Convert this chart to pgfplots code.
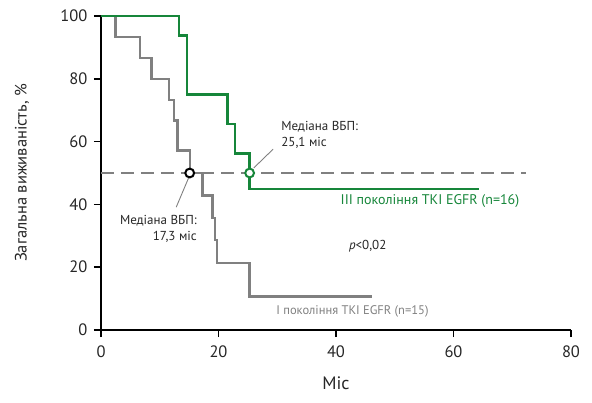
\documentclass[border=0pt]{standalone}
\usepackage{pgfplots}
\pgfplotsset{compat=1.18}
\usepackage{fontspec}
\setmainfont{PT Sans}
\definecolor{kmgreen}{RGB}{22,134,58}
\definecolor{kmgray}{RGB}{128,128,128}
\begin{document}
\begin{tikzpicture}
\path[use as bounding box] (-101pt,-72pt) rectangle (491pt,330pt);
\begin{axis}[
  scale only axis,
  width=470pt, height=314pt,
  xmin=0, xmax=80, ymin=0, ymax=100,
  axis x line*=bottom, axis y line*=left,
  axis line style={line width=1.6pt, black, -},
  xtick={0,20,40,60,80}, ytick={0,20,40,60,80,100},
  tick align=outside,
  major tick length=7pt,
  tick style={line width=1.6pt, black},
  /pgf/number format/assume math mode=true,
  ticklabel style={font=\fontsize{16.5}{16.5}\selectfont, text=black!85},
  xticklabel style={yshift=-5pt},
  yticklabel style={xshift=-3pt},
  xlabel={Міс},
  xlabel style={font=\fontsize{18}{18}\selectfont, at={(axis description cs:0.5,0)}, anchor=center, yshift=-53pt, text=black!85},
  ylabel={Загальна виживаність, \%},
  ylabel style={font=\fontsize{16.5}{16.5}\selectfont, at={(axis description cs:-0.168,0.5)}, anchor=center, text=black!85},
  clip=false,
]
% median dashed line
\addplot[kmgray, line width=1.6pt, dash pattern=on 13pt off 7pt] coordinates {(0,50) (72.3,50)};
% I generation (gray)
\addplot[kmgray, line width=2.4pt, const plot] coordinates {
 (0,100) (2.5,93.33) (6.6,86.67) (8.6,80) (11.6,73.33) (12.4,66.67) (13.0,57.14)
 (15.1,50) (17.3,42.86) (19.0,35.71) (19.4,28.57) (19.7,21.43) (25.3,10.71) (46.1,10.71)};
% III generation (green)
\addplot[kmgreen, line width=2.4pt, const plot] coordinates {
 (0,100) (13.3,93.75) (14.6,75) (21.5,65.6) (22.8,56.25) (25.3,45) (64.3,45)};
% median markers
\addplot[only marks, mark=*, mark size=4.4pt, mark options={draw=black, fill=white, line width=2pt}] coordinates {(15.1,50)};
\addplot[only marks, mark=*, mark size=4.4pt, mark options={draw=kmgreen, fill=white, line width=2pt}] coordinates {(25.3,50)};
% connectors
\draw[kmgray, line width=0.9pt] (axis cs:26.0,51.6) -- (axis cs:29.3,57.6);
\draw[kmgray, line width=0.9pt] (axis cs:14.9,48.4) -- (axis cs:12.8,39.1);
% annotations
\node[anchor=west, align=left, font=\fontsize{13}{16}\selectfont, text=black!85] at (axis cs:30.1,62.1) {Медіана ВБП:\\25,1 міс};
\node[anchor=east, align=right, font=\fontsize{13}{16}\selectfont, text=black!85] at (axis cs:16.9,32.2) {Медіана ВБП:\\17,3 міс};
\node[anchor=center, font=\fontsize{14}{14}\selectfont, text=kmgreen] at (axis cs:56.0,41.2) {III покоління TKI EGFR (n=16)};
\node[anchor=center, font=\fontsize{13}{14}\selectfont, text=black!85] at (axis cs:45.4,26.8) {\textit{p}<0,02};
\node[anchor=center, font=\fontsize{12.5}{14}\selectfont, text=kmgray] at (axis cs:42.8,5.8) {I покоління TKI EGFR (n=15)};
\end{axis}
\end{tikzpicture}
\end{document}
